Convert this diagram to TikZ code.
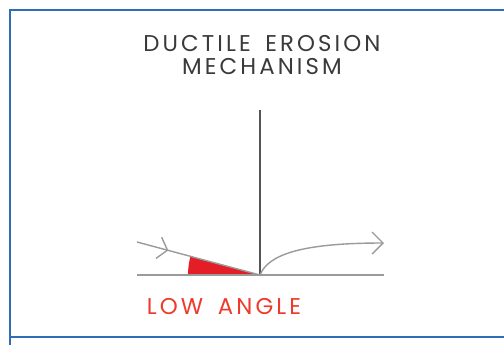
\documentclass[tikz,border=0pt]{standalone}
\usepackage{fontspec}
\usetikzlibrary{arrows.meta,decorations.markings,positioning}
\newfontfamily\gothfont[LetterSpace=13.5,WordSpace=1.6]{Poppins}
\definecolor{frameblue}{HTML}{2F6EB5}
\definecolor{ink}{HTML}{3A3A3A}
\definecolor{line}{HTML}{9A9A9A}
\definecolor{stem}{HTML}{555555}
\definecolor{wedge}{HTML}{E41E26}
\definecolor{angletext}{HTML}{EE3A2A}

\begin{document}
\begin{tikzpicture}[
  x=0.02cm, y=-0.02cm,
  %===========================================================
  % Frame and text
  %===========================================================
  frame/.style={draw=frameblue, line width=1.4pt},
  title/.style={
    font=\gothfont\fontsize{13}{13.4}\selectfont,
    text=ink,
    align=center,
    inner sep=0pt
  },
  anglelabel/.style={
    font=\gothfont\fontsize{13}{13.4}\selectfont,
    text=angletext,
    inner sep=0pt
  },
  %===========================================================
  % Lines of the sketch
  %===========================================================
  surface/.style={draw=line, line width=0.9pt},
  normal/.style={draw=stem, line width=0.6pt},
  inflow/.style={
    draw=line, line width=0.8pt,
    decoration={markings,
      mark=at position 0.255 with {\arrow{Straight Barb[length=1.8mm,width=4.4mm,line width=0.8pt]}}},
    postaction=decorate
  },
  outflow/.style={
    -{Straight Barb[length=2.2mm,width=4.4mm,line width=0.8pt]},
    draw=line, line width=0.8pt
  },
  anglefill/.style={fill=wedge, draw=none}
]
  \useasboundingbox (0,0) rectangle (504,345);

  %====================================================================
  % Blue frame, cut off on the right
  %====================================================================
  \draw[frame] (504,10) -- (10,10) -- (10,345);
  \draw[frame] (10,337) -- (504,337);

  \node[title] (title) at (262,55) {DUCTILE EROSION\\MECHANISM};

  %====================================================================
  % Impact point, surface and normal
  %====================================================================
  \coordinate (hit)     at (260,275);
  \coordinate (top)     at (260,110);
  \coordinate (groundL) at (137,275);
  \coordinate (groundR) at (384,275);
  \coordinate (inlet)   at (137,242);
  \coordinate (outlet)  at (384,243);

  % red wedge between the particle path and the surface
  \fill[anglefill] (hit) -- ++(180:72) arc[start angle=180, end angle=195, radius=72] -- cycle;

  \draw[surface] (groundL) -- (groundR);
  \draw[normal]  (top) -- (hit);

  %====================================================================
  % Particle path in and out
  %====================================================================
  \draw[inflow]  (inlet) -- (hit);
  \draw[outflow] (hit) .. controls (268,255) and (300,243) .. (outlet);

  \node[anglelabel] (low) at (224,307) {LOW ANGLE};
\end{tikzpicture}
\end{document}
